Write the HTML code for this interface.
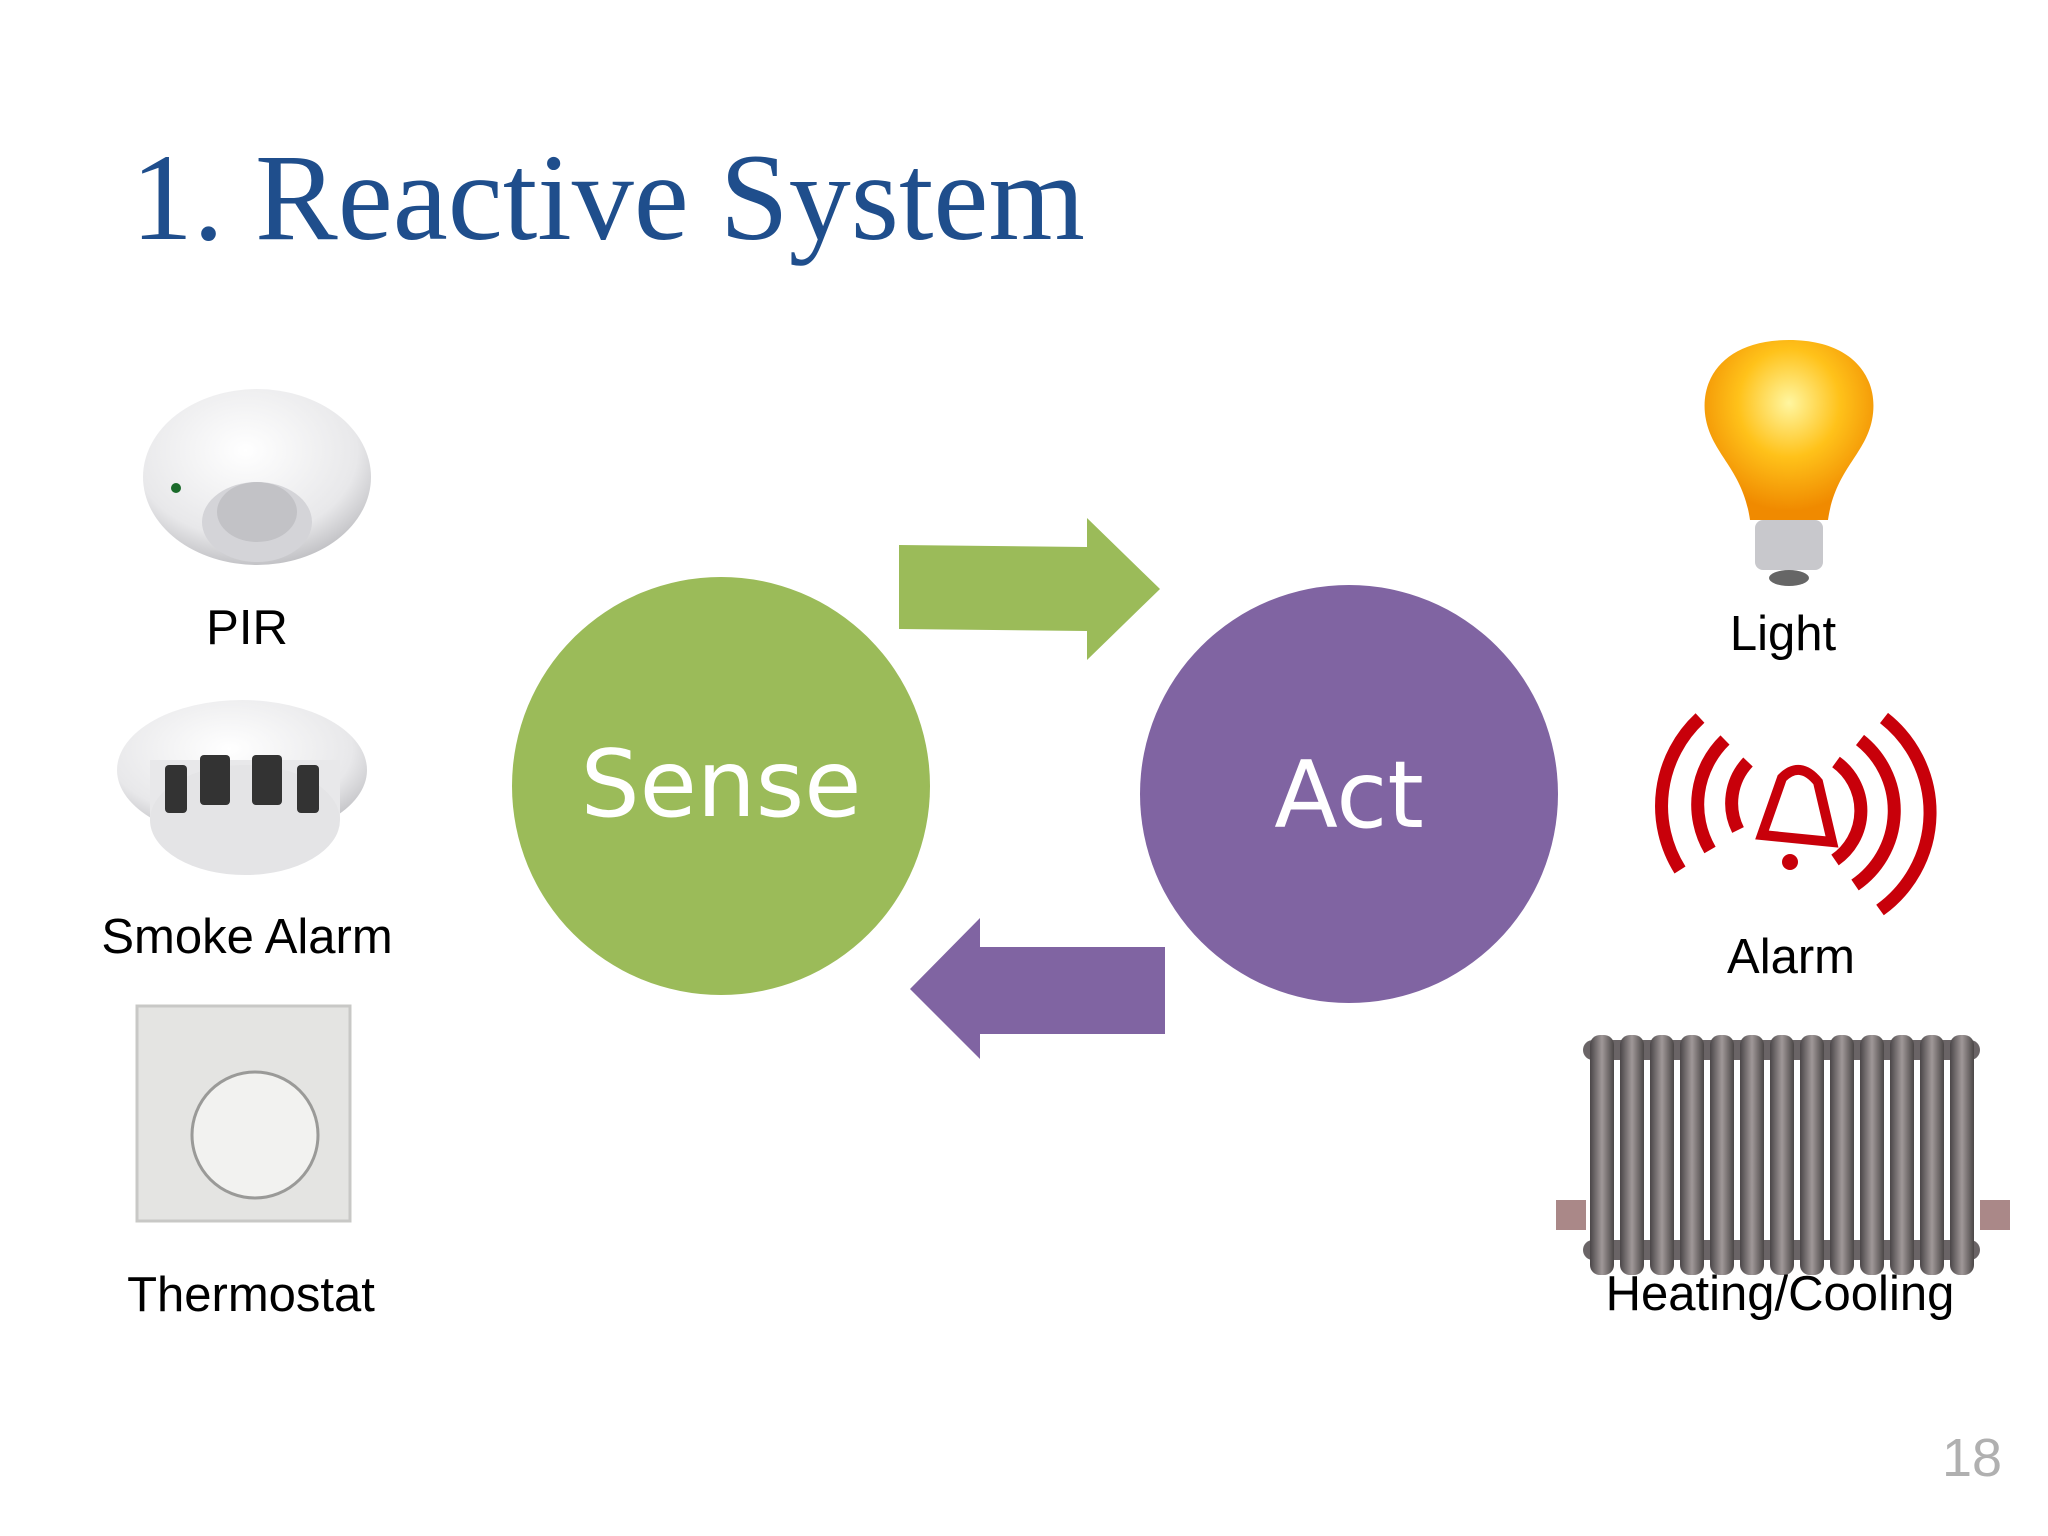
<!DOCTYPE html>
<html><head><meta charset="utf-8"><style>
html,body{margin:0;padding:0;background:#fff}
svg{display:block}
</style></head><body>
<svg width="2048" height="1536" viewBox="0 0 2048 1536" xmlns="http://www.w3.org/2000/svg">
<defs>
<radialGradient id="pir" cx="45%" cy="35%" r="70%"><stop offset="0" stop-color="#fff"/><stop offset="0.7" stop-color="#e8e8ea"/><stop offset="1" stop-color="#b8b8bc"/></radialGradient>
<radialGradient id="bulb" cx="50%" cy="35%" r="60%"><stop offset="0" stop-color="#fff6a0"/><stop offset="0.5" stop-color="#ffc21a"/><stop offset="1" stop-color="#f08a00"/></radialGradient>
<linearGradient id="rad" x1="0" x2="1"><stop offset="0" stop-color="#4a4648"/><stop offset="0.5" stop-color="#a09898"/><stop offset="1" stop-color="#4a4646"/></linearGradient>
</defs>
<rect width="2048" height="1536" fill="#fff"/>
<text x="131" y="239" font-family="Liberation Serif, serif" font-size="124" fill="#1f4e8c">1. Reactive System</text>

<!-- PIR -->
<ellipse cx="257" cy="477" rx="114" ry="88" fill="url(#pir)"/>
<ellipse cx="257" cy="522" rx="55" ry="40" fill="#d4d4d8"/>
<ellipse cx="257" cy="512" rx="40" ry="30" fill="#c2c2c6"/>
<circle cx="176" cy="488" r="5" fill="#1a6a2a"/>
<!-- Smoke -->
<ellipse cx="242" cy="770" rx="125" ry="70" fill="url(#pir)"/>
<rect x="150" y="760" width="190" height="60" fill="#e8e8ea"/>
<ellipse cx="245" cy="820" rx="95" ry="55" fill="#e4e4e6"/>
<g fill="#333"><rect x="165" y="765" width="22" height="48" rx="4"/><rect x="200" y="755" width="30" height="50" rx="4"/><rect x="252" y="755" width="30" height="50" rx="4"/><rect x="297" y="765" width="22" height="48" rx="4"/></g>
<!-- Thermostat -->
<rect x="137" y="1006" width="213" height="215" fill="#e4e4e2" stroke="#c8c8c6" stroke-width="3"/>
<circle cx="255" cy="1135" r="63" fill="#f2f2f0" stroke="#9a9a98" stroke-width="3"/>
<!-- Bulb -->
<path d="M1789 340 C1855 340 1880 380 1872 420 C1865 455 1835 470 1828 520 L1750 520 C1743 470 1713 455 1706 420 C1698 380 1723 340 1789 340Z" fill="url(#bulb)"/>
<rect x="1755" y="520" width="68" height="50" rx="8" fill="#c8c8cc"/>
<ellipse cx="1789" cy="578" rx="20" ry="8" fill="#666"/>
<!-- Alarm -->
<g fill="none" stroke="#c8000a" stroke-width="13">
<path d="M1700 718 A120 120 0 0 0 1680 870"/><path d="M1725 740 A90 90 0 0 0 1710 850"/><path d="M1748 762 A60 60 0 0 0 1738 830"/>
<path d="M1884 718 A120 120 0 0 1 1880 910"/><path d="M1860 740 A90 90 0 0 1 1855 885"/><path d="M1836 762 A60 60 0 0 1 1835 860"/>
</g>
<path d="M1762 835 L1782 778 Q1800 760 1818 782 L1832 842 Z" fill="none" stroke="#c8000a" stroke-width="10"/>
<circle cx="1790" cy="862" r="8" fill="#c8000a"/>
<!-- Radiator -->
<g>
<rect x="1583" y="1040" width="397" height="20" rx="10" fill="#6a6466"/>
<rect x="1583" y="1240" width="397" height="20" rx="10" fill="#6a6466"/>
<g fill="url(#rad)">
<rect x="1590" y="1035" width="24" height="240" rx="10"/><rect x="1620" y="1035" width="24" height="240" rx="10"/><rect x="1650" y="1035" width="24" height="240" rx="10"/><rect x="1680" y="1035" width="24" height="240" rx="10"/><rect x="1710" y="1035" width="24" height="240" rx="10"/><rect x="1740" y="1035" width="24" height="240" rx="10"/><rect x="1770" y="1035" width="24" height="240" rx="10"/><rect x="1800" y="1035" width="24" height="240" rx="10"/><rect x="1830" y="1035" width="24" height="240" rx="10"/><rect x="1860" y="1035" width="24" height="240" rx="10"/><rect x="1890" y="1035" width="24" height="240" rx="10"/><rect x="1920" y="1035" width="24" height="240" rx="10"/><rect x="1950" y="1035" width="24" height="240" rx="10"/>
</g>
<rect x="1556" y="1200" width="30" height="30" fill="#a88"/><rect x="1980" y="1200" width="30" height="30" fill="#a88"/>
</g>

<!-- Arrows -->
<polygon points="899,545 1087,547 1087,518 1160,589 1087,660 1087,631 899,629" fill="#9bbb59"/>
<polygon points="1165,947 980,947 980,918 910,989 980,1059 980,1034 1165,1034" fill="#8064a2"/>
<!-- Circles -->
<circle cx="721" cy="786" r="209" fill="#9bbb59"/>
<circle cx="1349" cy="794" r="209" fill="#8064a2"/>
<text x="721" y="816" text-anchor="middle" font-family="DejaVu Sans, sans-serif" font-size="93" fill="#fff">Sense</text>
<text x="1349" y="827" text-anchor="middle" font-family="DejaVu Sans, sans-serif" font-size="93" fill="#fff">Act</text>

<g font-family="Liberation Sans, sans-serif" font-size="49" fill="#000" text-anchor="middle">
<text x="247" y="644">PIR</text>
<text x="247" y="953">Smoke Alarm</text>
<text x="251" y="1311">Thermostat</text>
<text x="1783" y="650">Light</text>
<text x="1791" y="973">Alarm</text>
<text x="1780" y="1310">Heating/Cooling</text>
</g>
<text x="1972" y="1476" text-anchor="middle" font-family="Liberation Sans, sans-serif" font-size="54" fill="#b0b0b0">18</text>
</svg>
</body></html>
